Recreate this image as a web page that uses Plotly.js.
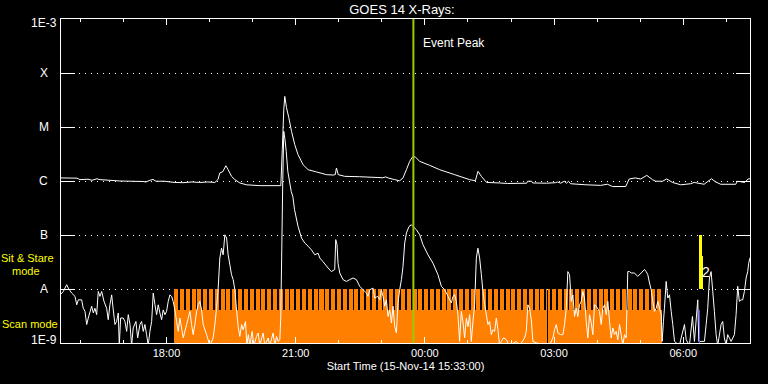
<!DOCTYPE html>
<html><head><meta charset="utf-8">
<script src="https://cdn.plot.ly/plotly-3.0.1.min.js"></script>
<style>html,body{margin:0;padding:0;background:#000;}#chart{width:768px;height:384px;}</style>
</head><body><div id="chart"></div>
<script>
// Elapsed minutes after the start time 2014-11-15 15:33:00 (UTC)
const startISO = '2014-11-15T15:33:00Z';
const spanMin = 960;

// GOES 14 long channel (1-8 A), W/m^2
const longMin = [0,22.3,26.4,37.6,43.2,50.1,54.3,68.2,82.1,114.2,118.3,123.9,128.1,132.3,144.8,151.7,158.7,169.8,182.4,193.5,204.6,214.4,218.6,221.3,225.5,229.7,232.9,237.6,242.2,249.2,258.5,277.0,306.3,308.3,310.4,311.8,314.2,317.4,321.2,325.7,330.3,337.3,344.3,356.0,369.9,379.1,382.1,383.8,386.3,395.4,416.2,448.3,452.4,456.6,465.0,471.9,476.5,481.3,485.8,490.4,494.2,499.8,513.7,527.6,548.5,569.4,577.3,581.0,586.1,593.0,611.1,622.3,648.7,650.1,655.7,657.1,676.6,689.1,691.9,696.1,701.2,704.4,707.2,710.0,731.3,751.7,761.5,768.4,786.9,791.7,800.0,807.8,816.2,824.1,828.7,838.0,844.0,852.0,863.5,877.4,882.2,896.1,906.2,912.2,919.2,940.1,942.5,952.6,957.3,960];
const longFlux = [1.14e-6,1.13e-6,1.06e-6,1.08e-6,1.03e-6,1.1e-6,1.06e-6,1.03e-6,1.0e-6,9.8e-7,9.6e-7,1.03e-6,1.07e-6,9.9e-7,9.9e-7,9.6e-7,9.4e-7,9.3e-7,9.6e-7,9.4e-7,9.6e-7,9.4e-7,1.06e-6,1.41e-6,1.49e-6,1.92e-6,1.62e-6,1.22e-6,1.06e-6,9.2e-7,8.5e-7,8.2e-7,8.2e-7,3.8e-6,2.09e-5,3.69e-5,2.28e-5,1.49e-5,8.3e-6,4.7e-6,3.07e-6,2.0e-6,1.62e-6,1.47e-6,1.31e-6,1.29e-6,1.31e-6,1.74e-6,1.31e-6,1.22e-6,1.2e-6,1.15e-6,1.19e-6,1.13e-6,1.06e-6,1.01e-6,1.14e-6,1.62e-6,2.31e-6,2.86e-6,2.74e-6,2.31e-6,1.95e-6,1.62e-6,1.31e-6,1.06e-6,1.01e-6,1.51e-6,1.2e-6,9.4e-7,9.2e-7,9.0e-7,9.1e-7,9.9e-7,9.9e-7,9.2e-7,9.1e-7,9.3e-7,9.6e-7,9.1e-7,9.9e-7,9.1e-7,9.9e-7,8.9e-7,8.5e-7,8.3e-7,8.7e-7,7.9e-7,7.9e-7,1.09e-6,1.14e-6,1.09e-6,1.27e-6,1.06e-6,9.9e-7,9.9e-7,1.09e-6,9.4e-7,8.5e-7,8.9e-7,9.4e-7,8.7e-7,1.1e-6,9.6e-7,8.7e-7,8.7e-7,9.9e-7,9.4e-7,1.09e-6,1.1e-6];

// GOES 14 short channel (0.5-4 A), W/m^2
const shortMin = [0,3.2,7.9,10.2,14.9,19.5,21.9,24.1,28.8,31.0,33.4,35.8,38.0,42.7,45.0,47.3,49.7,51.9,54.3,56.7,59.9,63.6,65.8,68.2,70.6,72.8,75.2,77.5,79.8,81.2,83.1,86.7,89.1,91.5,93.7,96.1,98.4,100.6,104.4,106.8,110.0,112.3,114.6,116.9,119.3,121.5,123.9,126.3,128.5,130.9,133.2,135.5,137.8,140.2,142.4,144.8,147.1,149.4,151.7,154.1,156.3,158.7,161.1,163.3,165.7,168.0,170.3,175.0,179.6,181.9,184.2,186.5,188.9,191.1,193.5,195.9,198.1,202.8,207.4,212.0,214.4,216.7,219.0,221.3,223.7,225.9,228.3,230.7,232.9,235.3,237.6,239.9,242.2,244.6,246.8,249.2,251.6,253.8,257.1,258.9,261.0,263.1,266.3,268.7,272.4,274.7,277.0,281.6,284.0,288.6,291.0,295.5,298.0,300.3,302.5,304.9,306.2,307.6,309.0,310.4,312.1,313.8,316.0,318.4,320.8,323.0,325.4,330.3,335.1,339.7,344.3,349.0,353.6,358.2,360.6,365.1,372.1,376.8,381.4,382.8,384.6,386.0,388.4,393.0,397.7,402.3,406.9,411.6,416.2,420.8,425.6,427.8,430.2,434.8,437.2,441.3,444.1,446.4,448.7,451.0,453.4,455.6,458.0,460.4,462.6,465.0,467.3,469.5,471.9,474.3,476.5,478.9,481.3,484.9,488.2,490.4,495.2,499.8,504.4,511.3,518.3,525.2,530.0,534.6,539.2,543.9,546.1,548.5,550.8,553.1,555.4,557.8,560.0,562.4,564.8,567.0,569.4,571.7,574.0,576.3,578.7,580.9,583.3,585.7,587.9,590.3,592.6,594.9,597.2,599.6,601.8,604.2,606.5,608.8,611.1,613.5,616.7,620.4,625.0,634.4,639.0,645.9,648.3,650.5,652.9,655.3,657.5,671.4,680.7,685.3,687.7,690.1,692.3,696.1,699.3,701.6,704.0,706.2,708.6,710.9,713.2,715.5,717.9,720.1,722.5,724.9,727.1,729.4,731.8,734.1,736.4,738.8,741.0,743.4,745.7,750.3,752.7,754.9,757.3,759.7,761.9,764.3,766.6,768.9,771.2,773.6,775.8,778.2,780.5,782.8,785.1,787.5,789.7,792.1,794.5,799.0,803.6,808.4,813.0,815.3,817.6,820.0,822.3,824.5,826.9,829.3,831.5,833.9,836.3,837.6,839.4,840.8,843.2,845.4,847.8,850.2,852.4,854.8,861.7,864.1,868.7,871.1,875.6,879.8,882.6,887.2,888.6,896.5,898.9,901.1,903.5,905.8,908.1,910.4,912.8,915.0,919.7,922.0,924.3,926.7,928.9,931.3,933.7,938.3,940.6,942.9,945.2,947.6,949.8,952.2,954.6,956.8,958.2,960];
const shortFlux = [8.1e-9,9.0e-9,1.2e-8,1.04e-8,8.4e-9,7.3e-9,5.1e-9,6.3e-9,6.3e-9,4.4e-9,3.85e-9,2.2e-9,2.9e-9,4.8e-9,3.6e-9,4.4e-9,3.35e-9,9.0e-9,7.3e-9,9.0e-9,5.9e-9,4.4e-9,2.7e-9,5.1e-9,7.8e-9,4.1e-9,2.2e-9,2.5e-9,3.6e-9,9e-10,2.9e-9,2.9e-9,2.5e-9,1.64e-9,3.35e-9,2.2e-9,9e-10,1.9e-9,2.5e-9,1.24e-9,2.2e-9,2.5e-9,1.64e-9,2.2e-9,1.43e-9,9e-10,1.64e-9,2.5e-9,8.4e-9,5.1e-9,3.35e-9,5.1e-9,3.6e-9,2.7e-9,4.1e-9,3.35e-9,3.85e-9,5.9e-9,7.8e-9,7.3e-9,5.9e-9,4.1e-9,2.5e-9,1.64e-9,2.9e-9,1.9e-9,1.24e-9,2.2e-9,3.85e-9,2.2e-9,1.43e-9,2.2e-9,3.85e-9,5.1e-9,5.9e-9,4.1e-9,2.2e-9,1.43e-9,9e-10,1.24e-9,2.2e-9,4.4e-9,1.04e-8,3.75e-8,5.7e-8,4.3e-8,1.01e-7,8.8e-8,4.3e-8,2.8e-8,1.84e-8,1.49e-8,9.7e-9,4.1e-9,2.0e-9,1.32e-9,2.2e-9,1.76e-9,2.5e-9,9e-10,1.43e-9,9e-10,1.64e-9,9e-10,1.32e-9,1.53e-9,9e-10,1.53e-9,9e-10,1.24e-9,9e-10,1.53e-9,9e-10,1.32e-9,1.07e-9,1.15e-9,2.9e-9,5.3e-8,1.06e-6,8.3e-6,5.8e-6,3.53e-6,1.51e-6,9.8e-7,6.4e-7,5.2e-7,2.94e-7,1.44e-7,8.8e-8,7.1e-8,6.2e-8,5.3e-8,4.3e-8,4.6e-8,3.75e-8,3.2e-8,2.45e-8,2.1e-8,2.3e-8,8.2e-8,6.6e-8,3.0e-8,1.98e-8,1.49e-8,1.38e-8,1.49e-8,1.6e-8,1.49e-8,1.12e-8,9.7e-9,8.4e-9,7.3e-9,9.7e-9,1.04e-8,6.8e-9,7.3e-9,6.3e-9,9.7e-9,7.3e-9,4.8e-9,6.3e-9,3.1e-9,4.1e-9,2.35e-9,4.8e-9,2.0e-9,1.53e-9,5.5e-9,9.7e-9,1.49e-8,2.6e-8,7.1e-8,1.09e-7,1.44e-7,1.55e-7,1.44e-7,1.25e-7,1.01e-7,6.6e-8,4.3e-8,3.0e-8,1.84e-8,1.12e-8,9.7e-9,7.3e-9,5.5e-9,7.3e-9,7.8e-9,5.9e-9,3.35e-9,1.07e-9,3.85e-9,2.5e-9,1.24e-9,2.9e-9,2.0e-9,3.35e-9,1.07e-9,2.5e-9,5.1e-9,3.75e-8,5.7e-8,3.75e-8,1.84e-8,9.0e-9,5.1e-9,3.35e-9,2.2e-9,2.5e-9,1.43e-9,1.76e-9,1.64e-9,2.9e-9,1.76e-9,9e-10,1.07e-9,1.25e-9,1.15e-9,9e-10,1.07e-9,9e-10,1.24e-9,1.64e-9,5.1e-9,4.4e-9,2.7e-9,1.07e-9,9e-10,9e-10,1.24e-9,1.76e-9,2.2e-9,1.53e-9,1.43e-9,1.43e-9,2.2e-9,4.4e-9,2.1e-8,1.84e-8,5.9e-9,7.8e-9,3.1e-9,4.4e-9,3.1e-9,5.1e-9,5.9e-9,9.0e-9,6.8e-9,2.5e-9,1.24e-9,3.35e-9,2.35e-9,1.43e-9,5.1e-9,4.8e-9,3.85e-9,2.2e-9,4.4e-9,5.1e-9,3.35e-9,5.9e-9,2.5e-9,1.24e-9,1.9e-9,1.43e-9,1.64e-9,1.15e-9,2.2e-9,1.43e-9,9e-10,1.43e-9,1.24e-9,2.1e-8,2.1e-8,1.98e-8,1.98e-8,1.71e-8,1.98e-8,2.3e-8,2.1e-8,1.84e-8,1.29e-8,9.7e-9,5.9e-9,3.85e-9,4.4e-9,5.9e-9,4.4e-9,3.35e-9,1.07e-9,2.5e-9,4.4e-9,1.38e-8,6.8e-9,7.8e-9,3.85e-9,2.2e-9,1.07e-9,9e-10,1.24e-9,2.2e-9,1.15e-9,9e-10,3.1e-9,1.07e-9,6.3e-9,1.07e-9,1.07e-9,2.2e-9,4.4e-9,1.6e-8,2.1e-8,9.0e-9,3.85e-9,1.43e-9,9e-10,2.2e-9,2.5e-9,1.24e-9,9e-10,1.43e-9,1.24e-9,1.07e-9,1.43e-9,3.35e-9,1.12e-8,5.9e-9,6.3e-9,6.3e-9,9.0e-9,1.6e-8,2.1e-8,3.0e-8,3.8e-8];

// IRIS scan mode intervals (minutes after start) and the gaps between rasters
const scanStartMin = [157.3, 679.1];
const scanEndMin = [677.7, 837.8];
const scanLevel = 1e-8;
const scanSolidTop = 4.1e-9;
const scanGapMin = [164.5,172.6,180.7,188.8,196.9,205.0,213.1,221.2,229.3,237.4,245.5,253.6,261.7,269.8,277.9,286.0,294.1,302.2,310.3,318.4,326.5,334.6,342.7,350.8,358.9,367.0,375.1,383.2,391.3,399.4,407.5,415.6,423.7,431.8,439.9,448.0,456.1,464.2,472.3,480.4,488.5,496.6,504.7,512.8,520.9,529.0,537.1,545.2,553.3,561.4,569.5,577.6,585.7,593.8,601.9,610.0,618.1,626.2,634.3,642.4,650.5,658.6,666.7,674.8,682.9,691.0,699.1,707.2,715.3,723.4,731.5,739.6,747.7,755.8,763.9,772.0,780.1,788.2,796.3,804.4,812.5,820.6,828.7,836.8];

// Sit & stare mode marks
const sitStareMin = [891.1, 893.4];
const sitStareDurMin = [3.2, 1.4];
const sitStareTop = [1e-7, 4e-8];
const blueMarkMin = 889.6;
const blueMarkFlux = [9e-10, 4.1e-9];
const markerLabelMin = 898.3;
const markerLabelFlux = 2.1e-8;

const eventPeakMin = 491.0;

const yTickVals = [1e-9,1e-8,1e-7,1e-6,1e-5,1e-4,1e-3];
const yTickText = ['1E-9','A','B','C','M','X','1E-3'];

const t0 = Date.parse(startISO);
function T(m){ return new Date(t0 + m*60000).toISOString().replace('T',' ').replace('Z',''); }

const FONT = 'Liberation Sans, Arial, sans-serif';
const traces = [];

// scan-mode orange band
traces.push({type:'bar', x: scanStartMin.map((s,i)=>T((s+scanEndMin[i])/2)),
  width: scanStartMin.map((s,i)=>(scanEndMin[i]-s)*60000),
  base: scanStartMin.map(()=>5e-10), y: scanStartMin.map(()=>scanLevel-5e-10),
  marker:{color:'#ff8000', line:{width:0}}, hoverinfo:'skip', showlegend:false});
// black gaps between rasters
traces.push({type:'bar', x: scanGapMin.map(T), width: scanGapMin.map(()=>2.5*60000),
  base: scanGapMin.map(()=>scanSolidTop), y: scanGapMin.map(()=>scanLevel-scanSolidTop),
  marker:{color:'#000000', line:{width:0}}, hoverinfo:'skip', showlegend:false});

traces.push({type:'scatter', mode:'lines', x: longMin.map(T), y: longFlux,
  line:{color:'#ffffff', width:1, simplify:false}, showlegend:false});
traces.push({type:'scatter', mode:'lines', x: shortMin.map(T), y: shortFlux,
  line:{color:'#ffffff', width:1, simplify:false}, showlegend:false});

// sit & stare yellow marks
traces.push({type:'bar', x: sitStareMin.map(T), width: sitStareDurMin.map(d=>d*60000),
  base: sitStareMin.map(()=>scanLevel), y: sitStareTop.map(v=>v-scanLevel),
  marker:{color:'#ffff00', line:{width:0}}, showlegend:false});
traces.push({type:'scatter', mode:'lines', x:[T(blueMarkMin),T(blueMarkMin)], y: blueMarkFlux,
  line:{color:'#5050ff', width:1}, showlegend:false});

// event peak line
traces.push({type:'scatter', mode:'lines', x:[T(eventPeakMin),T(eventPeakMin)], y:[1e-10,1e-2],
  line:{color:'#99cc00', width:2}, showlegend:false});

const annotations = yTickVals.map((v,i)=>({xref:'paper', yref:'y', x:-0.0247, y:Math.log10(v),
  text:yTickText[i], showarrow:false, xanchor:'center', yanchor:'middle',
  yshift: i===0 ? 3 : (i===yTickVals.length-1 ? -3.5 : 0),
  font:{family:FONT, size:12, color:'#ffffff'}}));
annotations.push({xref:'x', yref:'paper', x:T(eventPeakMin), y:0.927, xshift:8, xanchor:'left', yanchor:'middle',
  text:'Event Peak', showarrow:false, font:{family:FONT, size:12, color:'#ffffff'}});
annotations.push({xref:'paper', yref:'y', x:-0.0885, y:-7.43, xanchor:'left', yanchor:'middle', borderpad:0,
  text:'Sit & Stare', showarrow:false, font:{family:FONT, size:11, color:'#ffff00'}});
annotations.push({xref:'paper', yref:'y', x:-0.0725, y:-7.675, xanchor:'left', yanchor:'middle', borderpad:0,
  text:'mode', showarrow:false, font:{family:FONT, size:11, color:'#ffff00'}});
annotations.push({xref:'paper', yref:'y', x:-0.0885, y:-8.643, xanchor:'left', yanchor:'middle',
  text:'Scan mode', showarrow:false, font:{family:FONT, size:11, color:'#ffff00'}});
annotations.push({xref:'x', yref:'y', x:T(markerLabelMin), y:Math.log10(markerLabelFlux), xanchor:'center', yanchor:'middle',
  text:'2', showarrow:false, font:{family:FONT, size:14, color:'#ffffff'}});

const layout = {
  width:768, height:384,
  paper_bgcolor:'#000000', plot_bgcolor:'#000000',
  margin:{l:61, r:18, t:19, b:41, pad:0},
  barmode:'overlay', bargap:0,
  showlegend:false,
  title:{text:'GOES 14 X-Rays:', font:{family:FONT, size:13, color:'#ffffff'},
    xref:'container', yref:'container', x:402/768, xanchor:'center', y:1-9.5/384, yanchor:'middle'},
  xaxis:{type:'date', range:[T(0), T(spanMin)], showgrid:false, zeroline:false,
    showline:true, linecolor:'#ffffff', linewidth:1, mirror:'ticks',
    ticks:'inside', ticklen:6, tickwidth:1, tickcolor:'#ffffff',
    tick0:'2014-11-15 00:00', dtick:3*3600000, tickformat:'%H:%M',
    minor:{dtick:3600000, ticks:'inside', ticklen:3, tickwidth:1, tickcolor:'#ffffff', showgrid:false},
    tickfont:{family:FONT, size:11, color:'#ffffff'},
    title:{text:'Start Time (15-Nov-14 15:33:00)', font:{family:FONT, size:11, color:'#ffffff'}, standoff:4},
    fixedrange:true},
  yaxis:{type:'log', range:[-9,-3], tickvals:yTickVals, showticklabels:false,
    ticks:'inside', ticklen:14, tickwidth:1, tickcolor:'#ffffff',
    showline:true, linecolor:'#ffffff', linewidth:1, mirror:'ticks',
    showgrid:true, gridcolor:'#ffffff', gridwidth:1, griddash:'1px,5px', zeroline:false,
    fixedrange:true},
  annotations: annotations
};

Plotly.newPlot('chart', traces, layout, {staticPlot:true, displayModeBar:false});
</script>
</body></html>
